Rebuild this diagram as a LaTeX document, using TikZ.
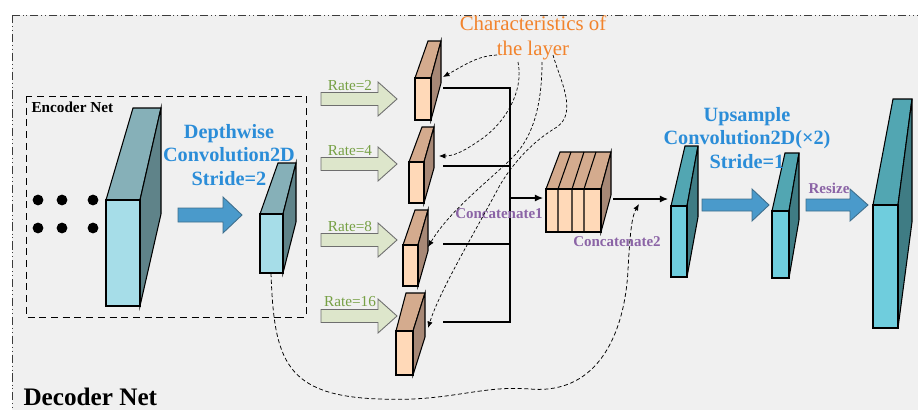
\documentclass[tikz,border=0pt]{standalone}
\usepackage{fontspec}
\setmainfont{Liberation Serif}
\usetikzlibrary{arrows.meta}

\definecolor{panel}{HTML}{F0F0F0}
\definecolor{frameline}{HTML}{3C3C3C}
% cuboid colour sets: F = front, T = top, S = side
\definecolor{encF}{HTML}{A6DDE8}
\definecolor{encT}{HTML}{86B0B8}
\definecolor{encS}{HTML}{5F8389}
\definecolor{outF}{HTML}{6FCDDD}
\definecolor{outT}{HTML}{52A6B2}
\definecolor{outS}{HTML}{3F7C84}
\definecolor{orgF}{HTML}{FFD9B8}
\definecolor{orgT}{HTML}{D4AB8E}
\definecolor{orgS}{HTML}{A78876}
\definecolor{convblue}{HTML}{2B8DD8}
\definecolor{arrowblue}{HTML}{4A9ACB}
\definecolor{arrowblueline}{HTML}{3E6E8C}
\definecolor{rategreen}{HTML}{76A044}
\definecolor{ratefill}{HTML}{DDE6CB}
\definecolor{rateline}{HTML}{6E6E6E}
\definecolor{labelpurple}{HTML}{8B64A6}
\definecolor{noteorange}{HTML}{F2832C}

% oblique cuboid: x, y (front top-left), w, h, back shift left/right, rise, colour set
\newcommand{\cuboid}[8]{%
  \filldraw[fill=#8T] (#1,#2) -- (#1+#3,#2) -- (#1+#3+#6,#2-#7) -- (#1+#5,#2-#7) -- cycle;
  \filldraw[fill=#8S] (#1+#3,#2) -- (#1+#3+#6,#2-#7) -- (#1+#3+#6,#2-#7+#4) -- (#1+#3,#2+#4) -- cycle;
  \filldraw[fill=#8F] (#1,#2) rectangle (#1+#3,#2+#4);
}
% block arrow: tail x, head start x, tip x, centre y, half body, half head, style
\newcommand{\fatarrow}[7]{%
  \filldraw[#7] (#1,#4-#5) -- (#2,#4-#5) -- (#2,#4-#6) -- (#3,#4) -- (#2,#4+#6) -- (#2,#4+#5) -- (#1,#4+#5) -- cycle;
}

\tikzset{
  ratearrow/.style={fill=ratefill, draw=rateline, line width=0.75pt},
  bluearrow/.style={fill=arrowblue, draw=arrowblueline, line width=0.75pt},
  ratelabel/.style={text=rategreen, font=\fontsize{13}{14}\selectfont, inner sep=0pt},
  purplelabel/.style={text=labelpurple, font=\bfseries\fontsize{12.8}{14}\selectfont, inner sep=0pt},
  convtext/.style={text=convblue, font=\bfseries\fontsize{17.3}{20.3}\selectfont, align=center, inner sep=0pt},
  busline/.style={line width=0.9pt},
  bustip/.style={-{Latex[length=7pt,width=6pt]}, line width=0.9pt},
  hint/.style={dashed, dash pattern=on 2.6pt off 1.8pt, line width=0.6pt, -{Latex[length=5.5pt,width=4.5pt]}},
}

\begin{document}
\begin{tikzpicture}[x=0.3mm, y=-0.3mm, line width=0.9pt, line join=miter]
\useasboundingbox (0,0) rectangle (918,410);
\clip (0,0) rectangle (918,410);
\fill[white] (0,0) rectangle (918,410);

% outer decoder frame
\filldraw[fill=panel, draw=frameline, line width=0.7pt,
  dash pattern=on 7pt off 2.5pt on 0.8pt off 2.5pt on 0.8pt off 2.5pt]
  (12,15) rectangle (940,430);
\node[anchor=base west, inner sep=0pt, font=\bfseries\fontsize{21.5}{24}\selectfont] (decoder) at (23,405) {Decoder Net};

% encoder frame
\draw[dashed, dash pattern=on 6pt off 4pt, line width=0.8pt] (26,96) rectangle (306,317);
\node[anchor=west, inner sep=0pt, font=\bfseries\fontsize{13}{15}\selectfont] (encoder) at (31,107) {Encoder Net};

% feature dots
\foreach \px in {38,62,93}
  \foreach \py in {200,228}
    \fill (\px,\py) circle (5.4);

% encoder feature map and depthwise output
\cuboid{106}{200}{34}{106}{27}{21}{92}{enc}
\cuboid{260}{214}{23}{59}{18}{13}{51}{enc}
\coordinate (dwout) at (271,273);

\fatarrow{178}{223}{242}{215}{7}{18}{bluearrow}
\node[convtext] (dwtext) at (229,155) {Depthwise\\Convolution2D\\Stride=2};

% dilated branches
\fatarrow{321}{378}{397}{99}{6.5}{17}{ratearrow}
\fatarrow{321}{378}{397}{164}{6.5}{17}{ratearrow}
\fatarrow{321}{378}{397}{240}{6.5}{17}{ratearrow}
\fatarrow{321}{378}{397}{316}{6.5}{17}{ratearrow}
\node[ratelabel] (r2) at (350,86) {Rate=2};
\node[ratelabel] (r4) at (350,151) {Rate=4};
\node[ratelabel] (r8) at (350,227) {Rate=8};
\node[ratelabel] (r16) at (350,302) {Rate=16};

\cuboid{415}{78}{16}{42}{13}{10}{37}{org}
\cuboid{409}{162}{15}{41}{13}{10}{35}{org}
\cuboid{403}{245}{15}{41}{12}{10}{35}{org}
\cuboid{396}{331}{17}{44}{10}{12}{38}{org}

% concatenation bus
\coordinate (o1) at (443,88);
\coordinate (o2) at (443,166);
\coordinate (o3) at (443,244);
\coordinate (o4) at (443,322);
\coordinate (b1) at (510,88);
\coordinate (b2) at (510,166);
\coordinate (b3) at (510,244);
\coordinate (b4) at (510,322);
\coordinate (bmid) at (510,198);
\coordinate (catin) at (543,198);
\draw[busline] (o1) -- (b1) -- (b4) -- (o4);
\draw[busline] (o2) -- (b2);
\draw[busline] (o3) -- (b3);
\draw[bustip] (bmid) -- (catin);

% concatenated stack
\cuboid{546}{189}{55}{43}{14}{10}{37}{org}
\foreach \sx/\tx in {558/571,572/584,584/596}
  \draw (\sx,189) -- (\sx,232) (\sx,189) -- (\tx,152);
\coordinate (catout) at (613,199);
\coordinate (upin) at (668,199);
\draw[bustip] (catout) -- (upin);

\node[purplelabel] (cat1) at (499,214) {Concatenate1};
\node[purplelabel] (cat2) at (617,242) {Concatenate2};

% upsampling path
\cuboid{671}{206}{16}{71}{14}{11}{60}{out}
\fatarrow{702}{752}{769}{205}{6}{16}{bluearrow}
\cuboid{772}{211}{17}{67}{13}{10}{58}{out}
\fatarrow{806}{850}{868}{205}{6}{16}{bluearrow}
\cuboid{873}{205}{25}{123}{20}{14}{106}{out}
\node[convtext] (uptext) at (747,138) {Upsample\\Convolution2D(×2)\\Stride=1};
\node[purplelabel] (resize) at (829,188) {Resize};

% layer characteristics notes
\node[text=noteorange, font=\fontsize{17.8}{21.3}\selectfont, align=center, inner sep=0pt] (note) at (533,38) {Characteristics of\\the layer};
\coordinate (nA) at (497,55);
\coordinate (nB) at (518,62);
\coordinate (nC) at (542,62);
\coordinate (nD) at (553,55);
\coordinate (s1) at (443,77);
\coordinate (s2) at (439,156);
\coordinate (s3) at (428,247);
\coordinate (s4) at (428,328);
\draw[hint] (nA) .. controls (478,56) and (468,63) .. (s1);
\draw[hint] (nB) .. controls (524,92) and (505,122) .. (483,138) .. controls (466,150) and (455,156) .. (s2);
\draw[hint] (nC) .. controls (542,100) and (535,135) .. (513,157) .. controls (490,180) and (450,210) .. (s3);
\draw[hint] (nD) .. controls (560,80) and (578,112) .. (557,127) .. controls (535,140) and (515,160) .. (500,185) .. controls (475,232) and (440,290) .. (s4);

% skip connection from the depthwise output
\coordinate (skipend) at (639,204);
\draw[hint, dash pattern=on 3.5pt off 2.2pt, line width=0.65pt] (dwout) .. controls (274,360) and (285,396) .. (380,399)
  .. controls (450,402) and (480,385) .. (530,389)
  .. controls (600,395) and (625,330) .. (628,270)
  .. controls (630,232) and (632,216) .. (skipend);
\end{tikzpicture}
\end{document}
